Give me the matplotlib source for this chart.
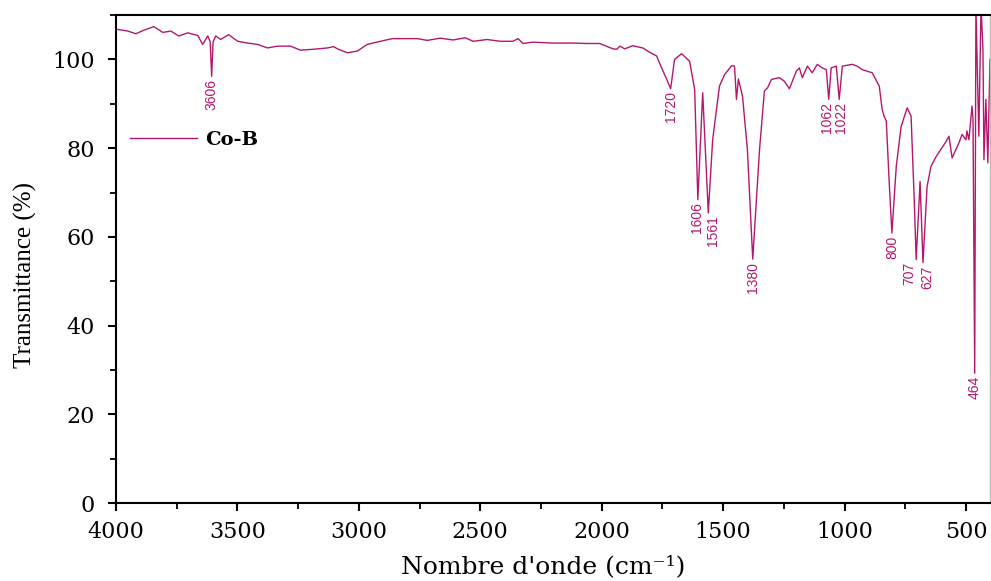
import numpy as np
import matplotlib
matplotlib.use("Agg")
import matplotlib.pyplot as plt
from matplotlib.ticker import MultipleLocator

# spectrum (wavenumber in cm-1, transmittance in %)
wavenumber = [
    3996, 3951, 3918, 3885, 3844, 3807, 3774, 3741, 3704, 3663, 3643, 3622,
    3612, 3606, 3600, 3589, 3569, 3536, 3499, 3458, 3417, 3376, 3335, 3281,
    3240, 3187, 3129, 3104, 3088, 3047, 3006, 2965, 2911, 2862, 2759, 2718,
    2665, 2611, 2562, 2529, 2472, 2418, 2365, 2344, 2324, 2283, 2201, 2119,
    2061, 2008, 1954, 1938, 1925, 1905, 1872, 1831, 1802, 1774, 1757, 1732,
    1716, 1700, 1671, 1638, 1617, 1604, 1584, 1561, 1543, 1515, 1494, 1465,
    1453, 1445, 1437, 1420, 1400, 1378, 1350, 1330, 1317, 1301, 1268, 1248,
    1227, 1198, 1186, 1174, 1153, 1133, 1112, 1092, 1075, 1065, 1055, 1034,
    1022, 1009, 968, 948, 927, 886, 857, 845, 837, 828, 816, 805,
    787, 767, 742, 726, 713, 705, 689, 677, 660, 644, 623, 582,
    570, 557, 529, 516, 500, 496, 488, 475, 471, 464, 459, 447,
    438, 430, 426, 418, 410, 401,
]
transmittance = [
    106.8, 106.4, 105.8, 106.6, 107.4, 106.1, 106.4, 105.3, 106.0, 105.4, 103.4, 105.3,
    104.0, 96.2, 104.0, 105.3, 104.5, 105.6, 104.1, 103.7, 103.4, 102.6, 103.0, 103.0,
    102.1, 102.3, 102.6, 102.9, 102.4, 101.5, 101.9, 103.4, 104.1, 104.7, 104.7, 104.3,
    104.8, 104.4, 104.9, 104.1, 104.5, 104.1, 104.1, 104.7, 103.6, 103.9, 103.7, 103.7,
    103.6, 103.6, 102.4, 102.3, 103.0, 102.4, 103.1, 102.6, 101.6, 100.8, 98.6, 95.5,
    93.4, 100.0, 101.3, 99.6, 93.2, 68.4, 92.5, 65.4, 81.9, 94.0, 96.6, 98.6,
    98.5, 91.0, 95.6, 91.7, 79.7, 55.0, 79.7, 92.9, 93.6, 95.5, 95.9, 95.1,
    93.4, 97.4, 98.1, 95.9, 98.5, 97.0, 98.9, 98.1, 97.7, 91.0, 98.1, 98.5,
    91.0, 98.5, 98.9, 98.5, 97.7, 97.0, 94.0, 88.7, 87.2, 86.1, 72.2, 60.9,
    75.9, 84.9, 89.1, 87.2, 68.4, 54.9, 72.5, 54.2, 71.4, 75.9, 78.1, 81.5,
    82.7, 77.8, 81.2, 83.1, 81.9, 83.9, 81.9, 89.5, 86.5, 29.3, 112.0, 82.7,
    112.0, 102.3, 77.4, 91.0, 76.7, 100.0,
]

# labelled bands: where the dip sits and the text printed next to it
peak_wn = [3606, 1716, 1604, 1561, 1378, 1065, 1022, 805, 705, 677, 464]
peak_text = ["3606", "1720", "1606", "1561", "1380", "1062", "1022",
             "800", "707", "627", "464"]

color = "#B3176E"
serif = ["Liberation Serif", "DejaVu Serif"]
wide_serif = ["DejaVu Serif"]
narrow = ["Liberation Sans Narrow", "Liberation Sans", "DejaVu Sans"]

fig = plt.figure(figsize=(9.91, 5.81), dpi=100)
ax = fig.add_axes([0.117, 0.134, 0.882, 0.840])

ax.plot(wavenumber, transmittance, color=color, lw=1.0, label="Co-B")

wn = np.array(wavenumber)
tr = np.array(transmittance)
# small horizontal nudges so neighbouring labels don't collide
nudge = {"1606": 2, "1561": -18, "1062": 6, "1022": -8,
         "707": 30, "627": -16}
for x, txt in zip(peak_wn, peak_text):
    y = tr[np.argmin(np.abs(wn - x))]
    ax.text(x + nudge.get(txt, 0), y - 0.6, txt, rotation=90, ha="center",
            va="top", color=color, fontsize=10, family=narrow)

ax.set_xlim(4000, 401)
ax.set_ylim(0, 110)
ax.xaxis.set_major_locator(MultipleLocator(500))
ax.xaxis.set_minor_locator(MultipleLocator(250))
ax.yaxis.set_major_locator(MultipleLocator(20))
ax.yaxis.set_minor_locator(MultipleLocator(10))
ax.tick_params(which="major", direction="out", length=6, width=1.5,
               labelsize=16)
ax.tick_params(axis="y", which="major", pad=9)
ax.tick_params(axis="x", which="major", pad=7)
ax.tick_params(which="minor", direction="out", length=4, width=1.3)
for lab in ax.get_xticklabels() + ax.get_yticklabels():
    lab.set_family(wide_serif)

for side in ("left", "bottom", "top"):
    ax.spines[side].set_linewidth(1.5)
ax.spines["right"].set_color("#BBBBBB")
ax.spines["right"].set_linewidth(1.0)

ax.set_xlabel("Nombre d'onde (cm\u207b\u00b9)", fontsize=18, family=wide_serif)
ax.xaxis.set_label_coords(0.489, -0.106)
ax.set_ylabel("Transmittance (%)", fontsize=18, family=serif)
ax.yaxis.set_label_coords(-0.090, 0.467)

leg = ax.legend(loc="center left", bbox_to_anchor=(-0.004, 0.744),
                frameon=False, handlelength=3.45, handletextpad=0.4,
                prop={"family": wide_serif, "size": 14, "weight": "bold"})

fig.savefig("out.png", dpi=100)
